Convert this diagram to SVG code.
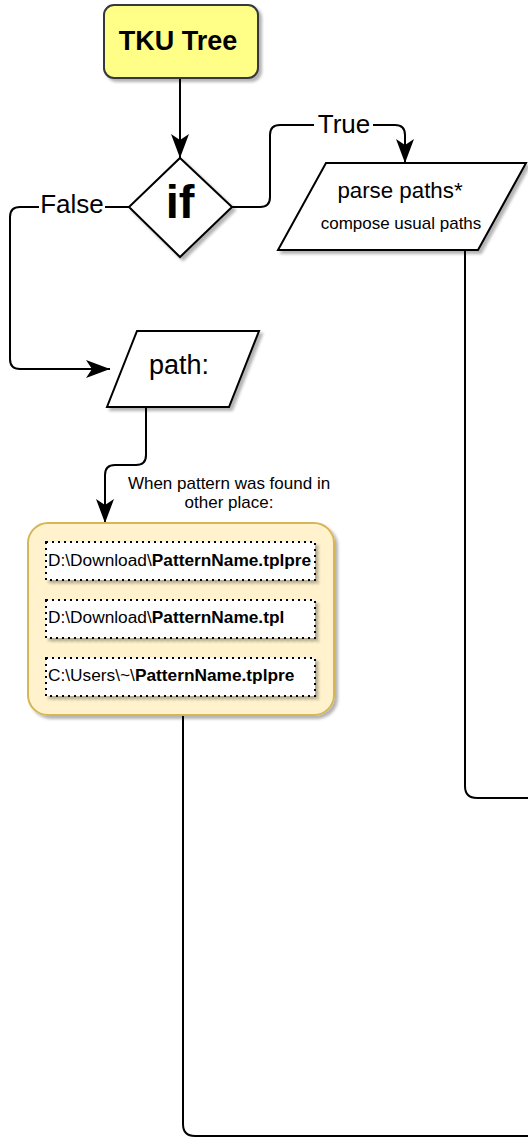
<svg xmlns="http://www.w3.org/2000/svg" width="528" height="1138" viewBox="0 0 528 1138">
<defs>
<filter id="sh" x="-10%" y="-10%" width="130%" height="140%">
<feGaussianBlur in="SourceAlpha" stdDeviation="1.5"/>
<feOffset dx="3" dy="3" result="b"/>
<feComponentTransfer><feFuncA type="linear" slope="0.3"/></feComponentTransfer>
<feMerge><feMergeNode/><feMergeNode in="SourceGraphic"/></feMerge>
</filter>
<marker id="arr" markerUnits="userSpaceOnUse" markerWidth="24" markerHeight="18" viewBox="0 0 24 18" refX="24" refY="9" orient="auto">
<path d="M24,9 L0,18 L6,9 L0,0 Z" fill="#000"/>
</marker>
</defs>
<style>
text{font-family:"Liberation Sans",Arial,Helvetica,sans-serif;fill:#000}
.edge{fill:none;stroke:#000;stroke-width:2}
.node{stroke:#000;stroke-width:2;fill:#fff}
.lbl{font-size:26px;text-anchor:middle}
.dot{fill:#fff;stroke:#000;stroke-width:2;stroke-dasharray:2 4}
.p{font-size:17.3px}
.b{font-weight:bold}
</style>
<g id="connectors">
<path class="edge" d="M180 78 L180 158" marker-end="url(#arr)"/>
<path class="edge" d="M232 207 L260 207 Q270 207 270 197 L270 135 Q270 125 280 125 L395 125 Q405 125 405 135 L405 163" marker-end="url(#arr)"/>
<rect x="314" y="110" width="59" height="30" fill="#fff"/>
<text class="lbl" x="344" y="133">True</text>
<path class="edge" d="M130 207 L20 207 Q10 207 10 217 L10 359 Q10 369 20 369 L110 369" marker-end="url(#arr)"/>
<rect x="39" y="192" width="66" height="28" fill="#fff"/>
<text class="lbl" x="72" y="213">False</text>
<path class="edge" d="M146 407 L146 455 Q146 465 136 465 L115 465 Q105 465 105 475 L105 523" marker-end="url(#arr)"/>
<text x="229" y="489" font-size="17" text-anchor="middle">When pattern was found in</text>
<text x="229" y="508" font-size="17" text-anchor="middle">other place:</text>
<path class="edge" d="M465 250 L465 786 Q465 798 477 798 L530 798"/>
<path class="edge" d="M183 715 L183 1124 Q183 1136 195 1136 L530 1136"/>
</g>
<g id="tku">
<rect x="104" y="5" width="154" height="73" rx="10" fill="#ffff88" stroke="#36393d" stroke-width="2" filter="url(#sh)"/>
<text x="178" y="50" font-size="27" font-weight="bold" text-anchor="middle">TKU Tree</text>
</g>
<g id="if">
<polygon class="node" points="180,158 232,207 180,257 129,207" filter="url(#sh)"/>
<text x="180" y="218" font-size="47" font-weight="bold" text-anchor="middle">if</text>
</g>
<g id="parse">
<polygon class="node" points="326,163 526,163 478,250 278,250" filter="url(#sh)"/>
<text x="400" y="198" font-size="22.3" text-anchor="middle">parse paths*</text>
<text x="401" y="229" font-size="17" text-anchor="middle">compose usual paths</text>
</g>
<g id="path">
<polygon class="node" points="137,331 259,331 229,407 107,407" filter="url(#sh)"/>
<text x="179" y="374" font-size="27" text-anchor="middle">path:</text>
</g>
<g id="container">
<rect x="28" y="523" width="306" height="192" rx="20" fill="#fff2cc" stroke="#d6b656" stroke-width="2" filter="url(#sh)"/>
</g>
<g id="p1">
<rect class="dot" x="46" y="542" width="269" height="38" filter="url(#sh)"/>
<text class="p" x="48" y="566">D:\Download\<tspan class="b">PatternName.tplpre</tspan></text>
</g>
<g id="p2">
<rect class="dot" x="46" y="600" width="269" height="38" filter="url(#sh)"/>
<text class="p" x="48" y="623">D:\Download\<tspan class="b">PatternName.tpl</tspan></text>
</g>
<g id="p3">
<rect class="dot" x="46" y="658" width="269" height="38" filter="url(#sh)"/>
<text class="p" x="48" y="681">C:\Users\~\<tspan class="b">PatternName.tplpre</tspan></text>
</g>
</svg>
